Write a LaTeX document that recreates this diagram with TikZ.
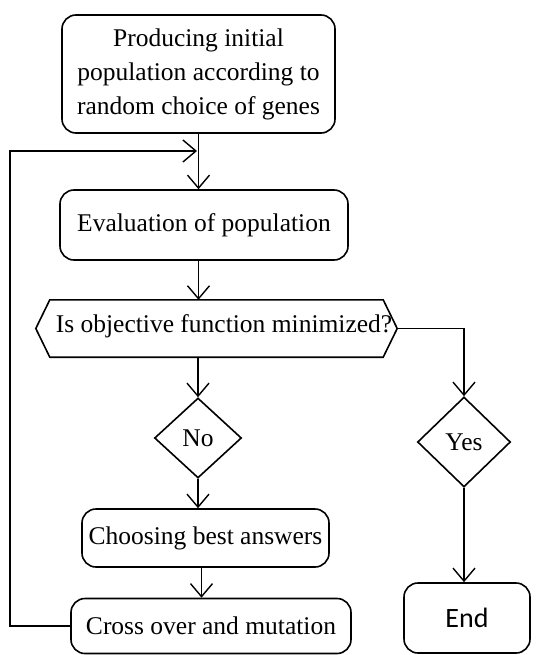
\documentclass[tikz,border=0pt]{standalone}
\usepackage{fontspec}
\setmainfont{Liberation Serif}
\newfontfamily\endfont{Carlito}
\usetikzlibrary{arrows.meta,shapes.geometric,calc}
\begin{document}
\begin{tikzpicture}[x=1bp,y=-1bp,
  every node/.style={font=\fontsize{25.5bp}{34bp}\selectfont},
  rbox/.style={draw,line width=1.6bp,rounded corners=14bp,align=center,inner sep=0pt},
  dia/.style={draw,line width=1.6bp,diamond,inner sep=0pt},
  arr/.style={line width=1.4bp,-{Straight Barb[length=13bp,width=22bp,line width=1.4bp]}},
  ln/.style={line width=1.4bp}]
\useasboundingbox (0,0) rectangle (536,655);
\node[rbox,minimum width=273bp,minimum height=118bp] (start) at (198.5,74) {Producing initial\\population according to\\random choice of genes};
\node[rbox,minimum width=288bp,minimum height=70bp] (eval) at (204,225) {Evaluation of population};
\node[minimum width=361bp,minimum height=57bp,inner sep=0pt] (hex) at (216.5,328.5) {};
\node (hextext) at (224,326) {Is objective function minimized?};
\draw[line width=1.6bp] (hex.west) -- ($(hex.north west)+(14,0)$) -- ($(hex.north east)+(-14,0)$) -- (hex.east) -- ($(hex.south east)+(-14,0)$) -- ($(hex.south west)+(14,0)$) -- cycle;
\node[dia,minimum width=87bp,minimum height=80bp] (no) at (198,438) {No};
\node[dia,minimum width=93bp,minimum height=90bp] (yes) at (464,442) {Yes};
\node[rbox,minimum width=247bp,minimum height=58bp] (choose) at (205.5,538) {Choosing best answers};
\node[rbox,minimum width=280bp,minimum height=55bp] (cross) at (211,626) {Cross over and mutation};
\node[rbox,minimum width=126bp,minimum height=70bp,font=\endfont\fontsize{28bp}{32bp}\selectfont] (end) at (467,618) {End};
\coordinate (join) at (197,151);
\coordinate (lc) at (10,151);
\draw[arr] (start.south) -- (start.south |- eval.north);
\draw[arr] (cross.west) -| (lc) -- (join);
\draw[arr] (eval.south -| start.south) -- (start.south |- hex.north);
\draw[arr] (no.north |- hex.south) -- (no.north);
\draw[arr] (hex.east) -| (yes.north);
\draw[arr] (no.south) -- (no.south |- choose.north);
\draw[arr] ($(choose.south)+(-4,0)$) -- ($(choose.south |- cross.north)+(-4,0)$);
\draw[arr] (yes.south) -- (yes.south |- end.north);
\end{tikzpicture}
\end{document}
